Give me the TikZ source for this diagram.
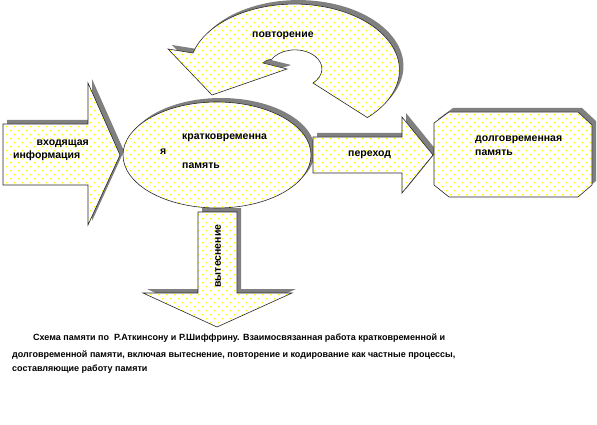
\documentclass[tikz,border=0pt]{standalone}
\usepackage{fontspec}
\setmainfont{Liberation Sans}
\definecolor{shd}{RGB}{128,128,128}
\definecolor{edge}{RGB}{40,40,40}
\definecolor{dotc}{RGB}{255,255,0}
\newcommand\dottedshape[5]{%
  \fill[shadowfill] #1;
  \fill[white] #1;
  \begin{scope}
    \clip #1;
    \fill[dotc] \foreach \xx in {#2,...,#3} {\foreach \yy in {#4,...,#5}
      {(8*\xx+2,8*\yy+2) rectangle ++(1.3,1.3) (8*\xx+6,8*\yy+6) rectangle ++(1.3,1.3)}};
  \end{scope}
  \draw[outline] #1;}
\begin{document}
\begin{tikzpicture}[x=1pt,y=-1pt,
  shadowfill/.style={fill=shd, draw=none, shift={(4,-4)}},
  outline/.style={draw=edge, line width=0.6pt},
  lbl/.style={inner sep=0pt, font=\fontsize{10.5}{12}\selectfont\bfseries},
  captext/.style={inner sep=0pt, font=\fontsize{9}{11}\selectfont\bfseries}]
\useasboundingbox[fill=white] (0,0) rectangle (597,425);
% circular arrow (repetition)
\dottedshape{(193,53) arc[start angle=195, end angle=406, x radius=105, y radius=66] -- (313,83) arc[start angle=48, end angle=-150, x radius=27, y radius=19] .. controls (267,60) .. (263,63) -- (287,69) -- (212,95) -- (168,49) -- cycle}{20}{50}{0}{15}
% incoming arrow
\dottedshape{(3,124) -- (88,124) -- (88,83) -- (120,155) -- (88,225) -- (88,185) -- (3,185) -- cycle}{0}{15}{10}{28}
% down arrow
\dottedshape{(198,212) -- (237,212) -- (237,293) -- (292,293) -- (217,327) -- (143,293) -- (198,293) -- cycle}{17}{37}{26}{41}
% ellipse
\dottedshape{(217,155) ellipse[x radius=94, y radius=53]}{15}{39}{12}{26}
% transfer arrow
\dottedshape{(313,137) -- (402,137) -- (402,117) -- (433,155) -- (402,193) -- (402,173) -- (313,173) -- cycle}{38}{54}{14}{24}
% long-term memory
\dottedshape{(449,112) -- (578,112) -- (592,125) -- (592,185) -- (578,197) -- (449,197) -- (434,185) -- (434,123) -- cycle}{53}{74}{13}{25}
% labels
\node[lbl, anchor=base west] (rep) at (252,38) {повторение};
\node[lbl, anchor=base east] (in1) at (89,146) {входящая};
\node[lbl, anchor=base west] (in2) at (13,159) {информация};
\node[lbl, anchor=base west] (st1) at (182,140) {кратковременна};
\node[lbl, anchor=base west] (st2) at (160,155) {я};
\node[lbl, anchor=base west] (st3) at (182,168) {память};
\node[lbl, anchor=base west] (tr) at (348,157) {переход};
\node[lbl, anchor=base west] (lt1) at (475,142) {долговременная};
\node[lbl, anchor=base west] (lt2) at (475,156) {память};
\node[lbl, rotate=90] (ex) at (218,256) {вытеснение};
\node[captext, anchor=base west] (c1) at (33,340) {Схема памяти по~ Р.Аткинсону и Р.Шиффрину. Взаимосвязанная работа кратковременной и};
\node[captext, anchor=base west] (c2) at (12,357) {долговременной памяти, включая вытеснение, повторение и кодирование как частные процессы,};
\node[captext, anchor=base west] (c3) at (12,371) {составляющие работу памяти};
\end{tikzpicture}
\end{document}
